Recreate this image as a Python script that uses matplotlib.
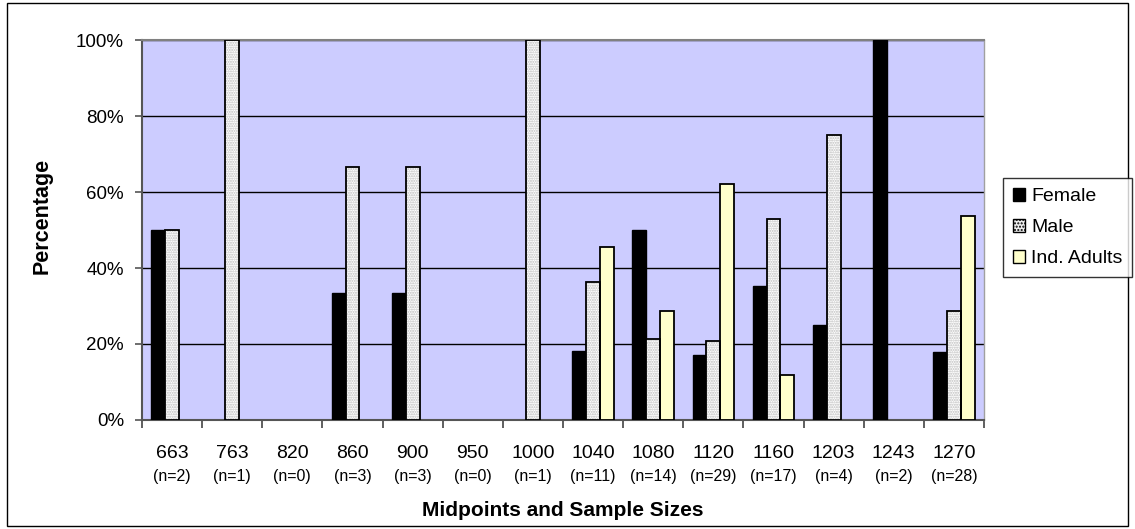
import numpy as np
import matplotlib.pyplot as plt
from matplotlib.patches import Rectangle

plt.rcParams['font.family'] = ['Liberation Sans', 'DejaVu Sans']

# 数据
midpoints = ['663', '763', '820', '860', '900', '950', '1000', '1040', '1080', '1120', '1160', '1203', '1243', '1270']
sizes = ['(n=2)', '(n=1)', '(n=0)', '(n=3)', '(n=3)', '(n=0)', '(n=1)', '(n=11)', '(n=14)', '(n=29)', '(n=17)', '(n=4)', '(n=2)', '(n=28)']
female = [50, 0, 0, 33.3, 33.3, 0, 0, 18.2, 50, 17.2, 35.3, 25, 100, 17.9]
male = [50, 100, 0, 66.7, 66.7, 0, 100, 36.4, 21.4, 20.7, 52.9, 75, 0, 28.6]
ind_adults = [0, 0, 0, 0, 0, 0, 0, 45.5, 28.6, 62.1, 11.8, 0, 0, 53.6]

def no_zero(v):
    # 0 的柱子不画
    v = np.array(v, dtype=float)
    v[v == 0] = np.nan
    return v

fig = plt.figure(figsize=(11.35, 5.29), dpi=100)
W, H = 1135, 529
ax = fig.add_axes([142 / W, 1 - 420 / H, (984 - 142) / W, (420 - 40) / H])
ax.set_facecolor('#ccccff')

x = np.arange(len(midpoints))
bw = 0.23
ax.bar(x - bw, no_zero(female), bw, color='black', edgecolor='black', lw=1, zorder=3)
# 雄性: 点状填充
ax.bar(x, no_zero(male), bw, color='white', edgecolor='#bcbcbc', hatch='.......', lw=0, zorder=3)
ax.bar(x, no_zero(male), bw, color='none', edgecolor='black', lw=1.3, zorder=4)
ax.bar(x + bw, no_zero(ind_adults), bw, color='#ffffcc', edgecolor='black', lw=1.3, zorder=3)

ax.set_xlim(-0.5, len(midpoints) - 0.5)
ax.set_ylim(0, 100)
ax.set_yticks(np.arange(0, 101, 20))
ax.set_yticklabels([f'{v}%' for v in range(0, 101, 20)], fontsize=13.5)
ax.yaxis.grid(True, color='black', lw=1, zorder=1)
ax.tick_params(axis='y', length=5, color='#555555', width=1.2, pad=8)

ax.set_xticks(np.arange(-0.5, len(midpoints), 1))
ax.set_xticklabels([])
ax.tick_params(axis='x', length=6, color='#444444', width=1.2)
for i in x:
    ax.text(i, -0.087, midpoints[i], ha='center', va='center', fontsize=14,
            transform=ax.get_xaxis_transform())
    ax.text(i, -0.15, sizes[i], ha='center', va='center', fontsize=11.5,
            transform=ax.get_xaxis_transform())

for side in ['left', 'bottom']:
    ax.spines[side].set_color('#555555')
    ax.spines[side].set_linewidth(1.5)
ax.spines['top'].set_color('#808080')
ax.spines['top'].set_linewidth(1.5)
ax.spines['right'].set_color('#a0a0a0')
ax.spines['right'].set_linewidth(1)

fig.text(563 / W, 1 - 510 / H, 'Midpoints and Sample Sizes', ha='center', va='center',
         fontsize=15, fontweight='bold')
fig.text(42 / W, 1 - 216 / H, 'Percentage', ha='center', va='center', rotation=90,
         fontsize=15.5, fontweight='bold')

handles = [Rectangle((0, 0), 1, 1, fc='black', ec='black'),
           Rectangle((0, 0), 1, 1, fc='#eeeeee', ec='black', hatch='.....'),
           Rectangle((0, 0), 1, 1, fc='#ffffcc', ec='black')]
leg = fig.legend(handles, ['Female', 'Male', 'Ind. Adults'], loc='upper left',
                 bbox_to_anchor=(1003 / W, 1 - 178 / H), fontsize=14, frameon=True,
                 fancybox=False, edgecolor='black', handlelength=0.65, handleheight=0.65,
                 handletextpad=0.3, borderpad=0.5, labelspacing=0.7, borderaxespad=0)
leg.get_frame().set_linewidth(1)

fig.patches.append(Rectangle((7 / W, 3 / H), (1128 - 7) / W, (526 - 3) / H, transform=fig.transFigure,
                             fill=False, edgecolor='black', lw=1))

fig.savefig('out.png', dpi=100)
